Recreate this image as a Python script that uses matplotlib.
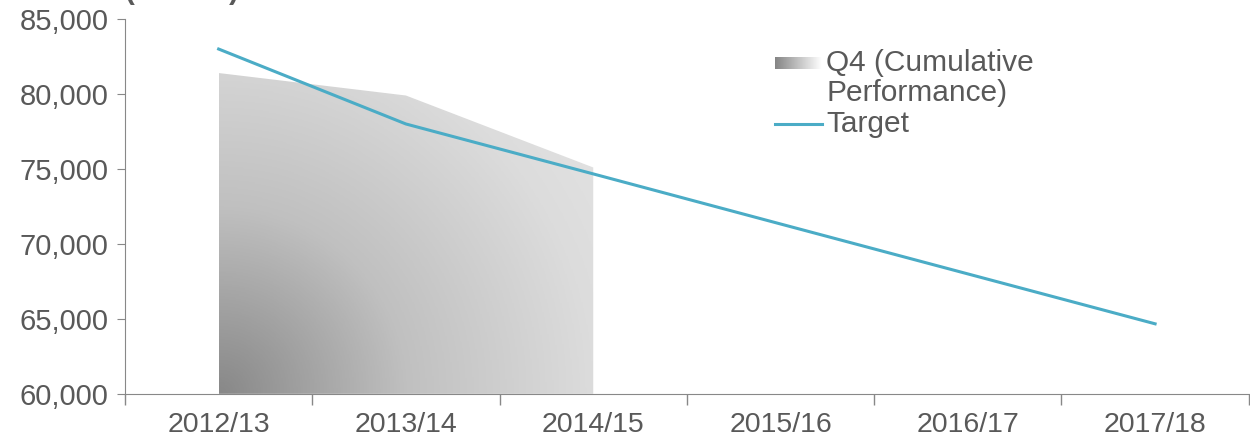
import numpy as np
import matplotlib
matplotlib.use('Agg')
import matplotlib.pyplot as plt
from matplotlib.patches import Polygon
from matplotlib.colors import LinearSegmentedColormap

years = ['2012/13', '2013/14', '2014/15', '2015/16', '2016/17', '2017/18']
performance = [81400, 79900, 75100]
target = [83000, 78000, 74670, 71330, 68000, 64670]

plt.rcParams['font.family'] = ['Liberation Sans', 'DejaVu Sans']
grey = '#595959'
line_col = '#4bacc6'


def main():
    fig = plt.figure(figsize=(12.5, 4.43), dpi=100)
    ax = fig.add_axes([0.1, 0.111, 0.899, 0.846])

    x = np.arange(len(years))
    xp = x[:len(performance)]
    ymin = 60000

    # radial gradient from the bottom-left corner (in pixel proportions)
    w_px, h_px = 375, 322
    gx, gy = np.meshgrid(np.linspace(0, w_px, 300), np.linspace(0, h_px, 300))
    t = np.sqrt(gx ** 2 + gy ** 2) / w_px
    top = 1.3
    cmap = LinearSegmentedColormap.from_list(
        'g', [(0, '#888888'), (0.5 / top, '#c0c0c0'), (1.0 / top, '#dcdcdc'), (1, '#e4e4e4')])
    img = ax.imshow(t, cmap=cmap, vmin=0, vmax=top,
                    extent=[xp[0], xp[-1], ymin, max(performance)],
                    origin='lower', aspect='auto', zorder=1)
    verts = [(xp[0], ymin)] + list(zip(xp, performance)) + [(xp[-1], ymin)]
    poly = Polygon(verts, closed=True, facecolor='none', edgecolor='none')
    ax.add_patch(poly)
    img.set_clip_path(poly)

    ax.plot(x, target, color=line_col, lw=2.2, zorder=3)

    ax.set_xlim(-0.5, 5.5)
    ax.set_ylim(60000, 85000)
    ax.set_yticks(range(60000, 85001, 5000))
    ax.set_yticklabels([f'{v:,}' for v in range(60000, 85001, 5000)])
    ax.set_xticks(x)
    ax.set_xticklabels(years)
    ax.set_xticks(np.arange(-0.5, 6, 1), minor=True)
    ax.tick_params(axis='x', which='major', length=0, pad=13, labelsize=20.5)
    ax.tick_params(axis='x', which='minor', length=8, color='#888888', width=1)
    ax.tick_params(axis='y', length=6, color='#888888', labelsize=21, pad=6)
    for lbl in ax.get_yticklabels() + ax.get_xticklabels():
        lbl.set_color(grey)
    for s in ['top', 'right']:
        ax.spines[s].set_visible(False)
    for s in ['left', 'bottom']:
        ax.spines[s].set_color('#888888')

    # (tonnes) title, cut off at top as in the original
    fig.text(0.1, 0.988, '(tonnes)', fontsize=21, color=grey, fontweight='bold',
             ha='left', va='bottom')

    # legend
    lax = fig.add_axes([775 / 1250, 1 - 69 / 443, 47 / 1250, 12 / 443])
    lax.imshow(np.linspace(0, 1, 100)[None, :], cmap=LinearSegmentedColormap.from_list(
        'l', ['#858585', '#ffffff']), aspect='auto')
    lax.axis('off')
    fig.text(826 / 1250, 1 - 78 / 443, 'Q4 (Cumulative\nPerformance)', fontsize=21.5,
             color=grey, ha='left', va='center', linespacing=1.05)
    fig.add_artist(plt.Line2D([775 / 1250, 822 / 1250], [1 - 124 / 443, 1 - 124 / 443],
                              color=line_col, lw=2.2))
    fig.text(826 / 1250, 1 - 124 / 443, 'Target', fontsize=21.5, color=grey,
             ha='left', va='center')

    fig.savefig('out.png', dpi=100)


if __name__ == "__main__":
    main()
